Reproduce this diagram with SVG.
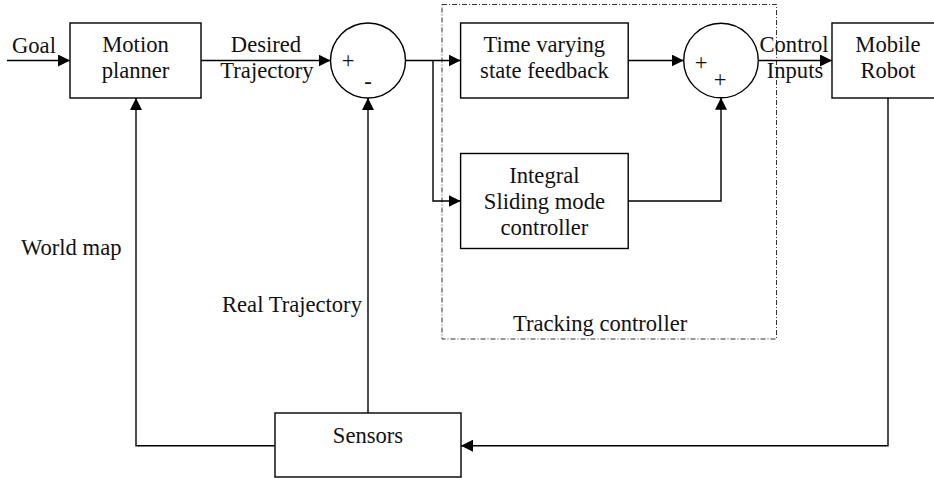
<svg xmlns="http://www.w3.org/2000/svg" width="934" height="478" viewBox="0 0 934 478">
<defs>
<marker id="arr" markerUnits="userSpaceOnUse" markerWidth="12" markerHeight="12" refX="12" refY="6" orient="auto">
<path d="M0,0 L12,6 L0,12 z" fill="#000"/>
</marker>
<style>
.box{fill:#fff;stroke:#000;stroke-width:1.4}
text{font-family:'Liberation Serif','Times New Roman',Times,serif;font-size:22.6px;fill:#111}
.m{text-anchor:middle}
.c{fill:none;stroke:#000;stroke-width:1.4}
.a{marker-end:url(#arr)}
.dash{fill:none;stroke:#333;stroke-width:1;stroke-dasharray:5 2 1 2}
</style>
</defs>
<rect width="934" height="478" fill="#fff"/>
<g id="tracking-group">
<rect class="dash" x="442" y="4.5" width="334.5" height="334.5"/>
<text x="513" y="331">Tracking controller</text>
</g>
<g id="connectors">
<path class="c a" d="M7,60.5 H70"/>
<path class="c a" d="M201,60.5 H330.5"/>
<path class="c a" d="M405.5,60.5 H460.6"/>
<path class="c a" d="M433,60.5 V201 H460.6"/>
<path class="c a" d="M628.2,60.5 H683.7"/>
<path class="c a" d="M628.2,201 H721 V97.8"/>
<path class="c a" d="M758.3,60.5 H832"/>
<path class="c a" d="M888,98 V445.7 H461"/>
<path class="c a" d="M368,413 V98"/>
<path class="c a" d="M275,445.7 H136 V98"/>
</g>
<g id="labels">
<text x="12" y="53">Goal</text>
<text class="m" x="266" y="52">Desired</text>
<text class="m" x="267" y="78">Trajectory</text>
<text class="m" x="794" y="52">Control</text>
<text class="m" x="795" y="78">Inputs</text>
<text x="21" y="255">World map</text>
<text x="222" y="312">Real Trajectory</text>
</g>
<g id="motion-planner">
<rect class="box" x="70" y="23" width="131" height="75"/>
<text class="m" x="135.5" y="52">Motion</text>
<text class="m" x="135.5" y="78">planner</text>
</g>
<g id="sum1">
<circle class="box" cx="368" cy="60.5" r="37.5"/>
<text class="m" x="348" y="67.5">+</text>
<text class="m" x="368" y="89">-</text>
</g>
<g id="time-varying">
<rect class="box" x="460.6" y="23" width="167.6" height="75"/>
<text class="m" x="544.4" y="52">Time varying</text>
<text class="m" x="544.4" y="78">state feedback</text>
</g>
<g id="integral-smc">
<rect class="box" x="460.6" y="153.5" width="167.6" height="95"/>
<text class="m" x="544.4" y="183">Integral</text>
<text class="m" x="544.4" y="209">Sliding mode</text>
<text class="m" x="544.4" y="235">controller</text>
</g>
<g id="sum2">
<circle class="box" cx="721" cy="60.5" r="37.3"/>
<text class="m" x="701" y="69.5">+</text>
<text class="m" x="720" y="87">+</text>
</g>
<g id="mobile-robot">
<rect class="box" x="832" y="23" width="112" height="75"/>
<text class="m" x="888" y="52">Mobile</text>
<text class="m" x="888" y="78">Robot</text>
</g>
<g id="sensors">
<rect class="box" x="275" y="413" width="186" height="64"/>
<text class="m" x="368" y="443">Sensors</text>
</g>
</svg>
